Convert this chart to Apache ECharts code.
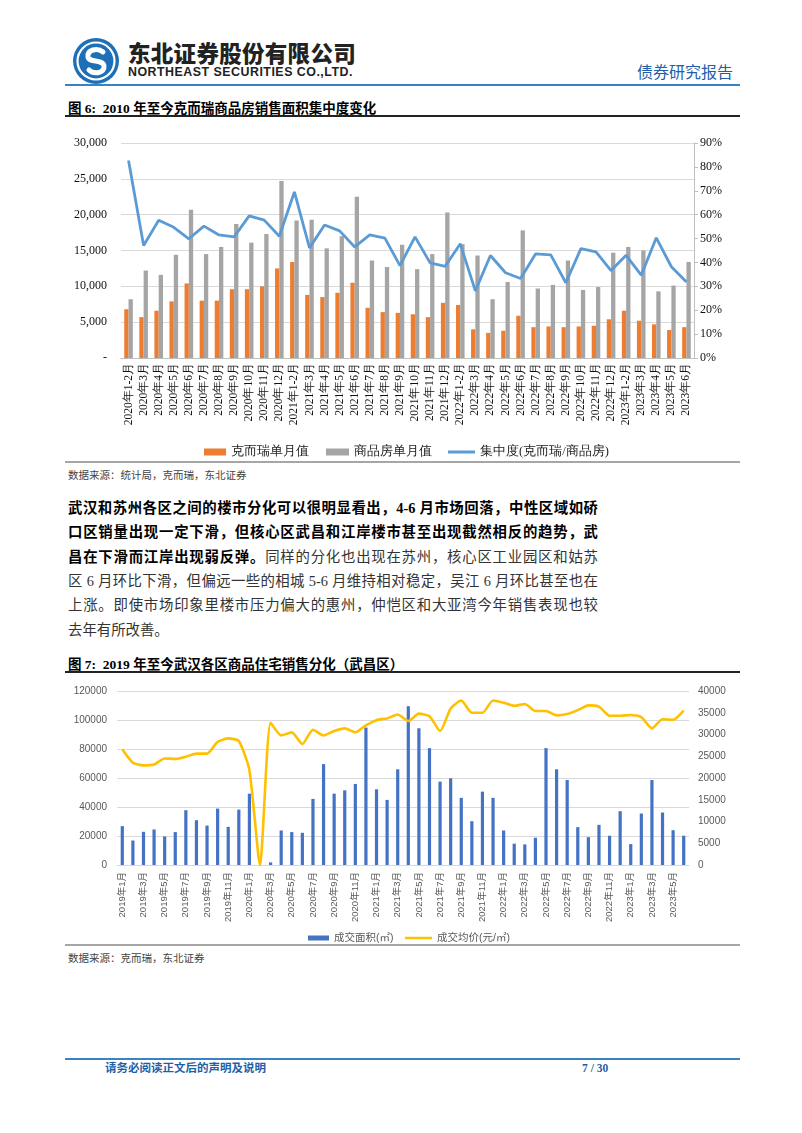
<!DOCTYPE html>
<html>
<head>
<meta charset="utf-8">
<script src="https://cdn.jsdelivr.net/npm/echarts@6/dist/echarts.min.js"></script>
<style>
  body { margin: 0; background: #fff; }
  #page { position: relative; width: 802px; height: 1133px; overflow: hidden; background: #fff;
          font-family: "Liberation Serif", "Noto Sans CJK SC", serif; }
  .abs { position: absolute; white-space: nowrap; line-height: 1; }
  .rule { position: absolute; left: 65px; width: 675px; }
  .para { position: absolute; left: 68px; width: 530px; font-size: 14.4px; line-height: 20px;
          text-align: justify; text-align-last: justify; color: #333; }
  .para b { color: #000; }
  .src { position: absolute; left: 68px; font-size: 10.5px; color: #444; }
  .ttl { position: absolute; left: 68px; font-size: 13.5px; font-weight: bold; color: #000; }
</style>
</head>
<body>
<div id="page">
  <svg class="abs" style="left:72px;top:37px" width="48" height="48" viewBox="0 0 48 48">
    <circle cx="24" cy="24" r="23" fill="#1d6fb8"/>
    <circle cx="24" cy="24" r="18.5" fill="none" stroke="#fff" stroke-width="2.2"/>
    <path d="M31 15 C25 10,15 13,16 20 C17 26,31 22,32 29 C33 36,22 38,17 33" fill="none" stroke="#fff" stroke-width="5" stroke-linecap="round"/>
  </svg>
  <div class="abs" style="left:128px;top:41px;font-family:'Noto Sans CJK SC';font-weight:900;font-size:22.5px;letter-spacing:0.3px;color:#222">东北证券股份有限公司</div>
  <div class="abs" style="left:128px;top:66px;font-family:'Liberation Sans';font-weight:bold;font-size:12.4px;letter-spacing:0.5px;color:#222">NORTHEAST SECURITIES CO.,LTD.</div>
  <div class="abs" style="left:637px;top:63px;font-family:'Noto Sans CJK SC';font-size:16px;color:#1f5fa8">债券研究报告</div>
  <div class="rule" style="top:84px;height:2px;background:#3b82c4"></div>

  <div class="ttl" style="top:97px">图 6:&nbsp; 2010 年至今克而瑞商品房销售面积集中度变化</div>
  <div class="rule" style="top:115px;height:1.5px;background:#222"></div>
  <div id="c1" class="abs" style="left:60px;top:125px;width:680px;height:340px"></div>
  <div class="rule" style="top:461px;height:2px;background:#a6a6a6"></div>
  <div class="src" style="top:467px">数据来源：统计局，克而瑞，东北证券</div>

  <div class="para" style="top:498px"><b>武汉和苏州各区之间的楼市分化可以很明显看出，4-6 月市场回落，中性区域如硚</b></div>
  <div class="para" style="top:522px"><b>口区销量出现一定下滑，但核心区武昌和江岸楼市甚至出现截然相反的趋势，武</b></div>
  <div class="para" style="top:547px"><b>昌在下滑而江岸出现弱反弹。</b>同样的分化也出现在苏州，核心区工业园区和姑苏</div>
  <div class="para" style="top:571px">区 6 月环比下滑，但偏远一些的相城 5-6 月维持相对稳定，吴江 6 月环比甚至也在</div>
  <div class="para" style="top:595px">上涨。即使市场印象里楼市压力偏大的惠州，仲恺区和大亚湾今年销售表现也较</div>
  <div class="para" style="top:620px;text-align-last:left">去年有所改善。</div>

  <div class="ttl" style="top:653px">图 7:&nbsp; 2019 年至今武汉各区商品住宅销售分化（武昌区）</div>
  <div class="rule" style="top:671px;height:1.5px;background:#222"></div>
  <div id="c2" class="abs" style="left:60px;top:680px;width:680px;height:270px"></div>
  <div class="rule" style="top:944px;height:2px;background:#a6a6a6"></div>
  <div class="src" style="top:950px">数据来源：克而瑞，东北证券</div>

  <div class="rule" style="top:1058px;height:1.5px;background:#3b82c4"></div>
  <div class="abs" style="left:105px;top:1063px;font-size:11.5px;font-weight:bold;color:#1f5fa8">请务必阅读正文后的声明及说明</div>
  <div class="abs" style="left:582px;top:1063px;font-size:11.5px;font-weight:bold;color:#1f5fa8">7 / 30</div>
</div>

<script>
// 图6 数据
const months1 = ['2020年1-2月','2020年3月','2020年4月','2020年5月','2020年6月','2020年7月','2020年8月','2020年9月','2020年10月','2020年11月','2020年12月',
  '2021年1-2月','2021年3月','2021年4月','2021年5月','2021年6月','2021年7月','2021年8月','2021年9月','2021年10月','2021年11月','2021年12月',
  '2022年1-2月','2022年3月','2022年4月','2022年5月','2022年6月','2022年7月','2022年8月','2022年9月','2022年10月','2022年11月','2022年12月',
  '2023年1-2月','2023年3月','2023年4月','2023年5月','2023年6月'];
const kerui = [6800,5700,6600,7900,10400,8000,8000,9600,9600,10000,12500,13400,8800,8500,9100,10500,7000,6400,
  6300,6100,5700,7700,7400,4000,3500,3800,5900,4300,4400,4300,4400,4500,5400,6600,5200,4700,3900,4300];
const shangpin = [8200,12200,11600,14400,20700,14500,15500,18700,16100,17300,24700,19200,19300,15300,17000,22500,13600,12700,
  15800,12400,14500,20300,15900,14300,8200,10600,17800,9700,10200,13600,9500,9900,14700,15500,15000,9300,10100,13400];
const jizhong = [82.7,47.1,57.7,54.7,49.9,55.2,51.5,50.7,59.5,57.7,51.0,69.5,46.1,55.7,53.2,46.5,51.5,50.2,
  38.7,50.7,39.8,38.4,47.8,28.1,42.9,35.7,33.3,43.6,43.2,31.5,45.8,44.4,36.6,43.0,34.7,50.3,38.2,31.8];

// 图7 数据
const months2 = ['2019年1月','2019年2月','2019年3月','2019年4月','2019年5月','2019年6月','2019年7月','2019年8月','2019年9月','2019年10月','2019年11月','2019年12月',
  '2020年1月','2020年2月','2020年3月','2020年4月','2020年5月','2020年6月','2020年7月','2020年8月','2020年9月','2020年10月','2020年11月','2020年12月',
  '2021年1月','2021年2月','2021年3月','2021年4月','2021年5月','2021年6月','2021年7月','2021年8月','2021年9月','2021年10月','2021年11月','2021年12月',
  '2022年1月','2022年2月','2022年3月','2022年4月','2022年5月','2022年6月','2022年7月','2022年8月','2022年9月','2022年10月','2022年11月','2022年12月',
  '2023年1月','2023年2月','2023年3月','2023年4月','2023年5月','2023年6月'];
const area = [26800,16900,22900,24500,19700,22700,37800,30900,27200,38900,26300,38200,
  49200,0,1800,23800,22700,22200,45600,69600,49200,51500,55900,94800,
  52200,44900,66000,109500,94300,80600,57500,59800,46300,30200,50600,46300,
  23800,14700,14200,18800,80600,66000,58600,26100,19200,27700,20200,37100,
  14400,35500,58600,36200,24000,20200];
const price = [26600,23500,22900,23100,24500,24400,24900,25600,25600,28300,29100,28500,
  21800,0,32700,29800,30500,27800,31100,29800,30800,31400,30500,32100,
  33300,33700,34600,33100,34800,34200,30800,36000,37800,35000,35000,37800,
  37300,36600,37000,35400,35400,34400,34700,35600,36700,36400,34300,34300,
  34500,34000,31400,33500,33400,35500];

const serif = 'Liberation Serif, serif';
const sans = 'Liberation Sans, Noto Sans CJK SC, sans-serif';

const lg1 = { fontFamily: serif, fontSize: 12.5, color: '#222', lineHeight: 16 };
const chart1 = echarts.init(document.getElementById('c1'));
chart1.setOption({
  animation: false,
  textStyle: { fontFamily: serif },
  grid: { left: 61, right: 46, top: 18, bottom: 107 },
  legend: [
    { top: 314, left: 139, itemWidth: 22, itemHeight: 7, itemGap: 0, textStyle: lg1,
      data: [{ name: '克而瑞单月值', icon: 'rect' }] },
    { top: 314, left: 261, itemWidth: 23, itemHeight: 7, itemGap: 0, textStyle: lg1,
      data: [{ name: '商品房单月值', icon: 'rect' }] },
    { top: 314, left: 383, itemWidth: 27, itemHeight: 3, itemGap: 0, textStyle: lg1,
      data: [{ name: '集中度(克而瑞/商品房)', icon: 'rect' }] }
  ],
  xAxis: {
    type: 'category', data: months1,
    axisLine: { lineStyle: { color: '#bfbfbf' } },
    axisTick: { show: false },
    axisLabel: { rotate: 90, interval: 0, fontSize: 11.5, color: '#111', margin: 5, fontFamily: serif }
  },
  yAxis: [{
    type: 'value', min: 0, max: 30000, interval: 5000,
    axisLabel: { fontSize: 12, color: '#111', margin: 14, fontFamily: serif,
      formatter: v => v === 0 ? '-' : v.toLocaleString('en-US') },
    splitLine: { lineStyle: { color: '#d9d9d9' } }
  }, {
    type: 'value', min: 0, max: 0.9, interval: 0.1,
    axisLine: { show: true, lineStyle: { color: '#bfbfbf' } },
    axisTick: { show: true, length: 4, lineStyle: { color: '#bfbfbf' } },
    axisLabel: { fontSize: 12, color: '#111', margin: 6, fontFamily: serif,
      formatter: v => Math.round(v * 100) + '%' },
    splitLine: { show: false }
  }],
  series: [
    { name: '克而瑞单月值', type: 'bar', data: kerui, barWidth: 4.3, barGap: '0%', itemStyle: { color: '#ed7d31' } },
    { name: '商品房单月值', type: 'bar', data: shangpin, barWidth: 4.3, itemStyle: { color: '#a5a5a5' } },
    { name: '集中度(克而瑞/商品房)', type: 'line', yAxisIndex: 1, data: jizhong.map(v => v / 100),
      symbol: 'none', lineStyle: { color: '#5b9bd5', width: 2.8 }, itemStyle: { color: '#5b9bd5' } }
  ]
});

const lg2 = { fontFamily: sans, fontSize: 10.5, color: '#595959', lineHeight: 14 };
const chart2 = echarts.init(document.getElementById('c2'));
chart2.setOption({
  animation: false,
  textStyle: { fontFamily: sans },
  grid: { left: 57, right: 51, top: 11, bottom: 85 },
  legend: [
    { top: 246, left: 243, itemWidth: 21, itemHeight: 5, itemGap: 0, textStyle: lg2,
      data: [{ name: '成交面积(㎡)', icon: 'rect' }] },
    { top: 246, left: 340, itemWidth: 27, itemHeight: 2.5, itemGap: 0, textStyle: lg2,
      data: [{ name: '成交均价(元/㎡)', icon: 'rect' }] }
  ],
  xAxis: {
    type: 'category', data: months2,
    axisLine: { lineStyle: { color: '#d9d9d9' } },
    axisTick: { show: false },
    axisLabel: { rotate: 90, interval: 1, fontSize: 9.5, color: '#595959', margin: 7 }
  },
  yAxis: [{
    type: 'value', min: 0, max: 120000, interval: 20000,
    axisLabel: { fontSize: 10, color: '#595959', margin: 10, formatter: v => String(v) },
    splitLine: { lineStyle: { color: '#d9d9d9' } }
  }, {
    type: 'value', min: 0, max: 40000, interval: 5000,
    axisLabel: { fontSize: 10, color: '#595959', margin: 9, formatter: v => String(v) },
    splitLine: { show: false }
  }],
  series: [
    { name: '成交面积(㎡)', type: 'bar', data: area, barWidth: 3.2, itemStyle: { color: '#4472c4' } },
    { name: '成交均价(元/㎡)', type: 'line', yAxisIndex: 1, data: price, symbol: 'none', smooth: 0.2,
      lineStyle: { color: '#ffc000', width: 2.6 }, itemStyle: { color: '#ffc000' } }
  ]
});
</script>
</body>
</html>
